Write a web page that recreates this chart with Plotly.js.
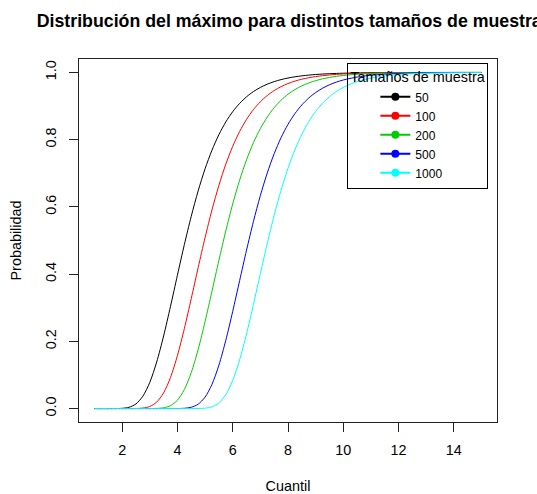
<!DOCTYPE html>
<html>
<head>
<meta charset="utf-8">
<script src="https://cdn.plot.ly/plotly-3.0.1.min.js"></script>
<style>
html, body { margin: 0; padding: 0; background: #fff; }
#chart { width: 537px; height: 494px; }
</style>
</head>
<body>
<div id="chart"></div>
<script>
// Quantile grid (x)
const cuantil = [1, 1.5, 2, 2.25, 2.5, 2.75, 3, 3.25, 3.5, 3.75, 4, 4.25, 4.5, 4.75, 5, 5.25, 5.5, 5.75, 6, 6.25, 6.5, 6.75, 7, 7.25, 7.5, 7.75, 8, 8.25, 8.5, 8.75, 9, 9.25, 9.5, 9.75, 10, 10.5, 11, 11.5, 12, 13, 14, 15];

// Probability of the maximum, one array per sample size
const n50 = [0, 0, 0.0007, 0.0038, 0.0138, 0.0368, 0.0778, 0.1384, 0.2159, 0.3042, 0.3968, 0.4876, 0.5720, 0.6476, 0.7132, 0.7687, 0.8148, 0.8527, 0.8833, 0.9079, 0.9275, 0.9431, 0.9554, 0.9651, 0.9727, 0.9787, 0.9834, 0.9870, 0.9899, 0.9921, 0.9939, 0.9952, 0.9963, 0.9971, 0.9977, 0.9986, 0.9992, 0.9995, 0.9997, 0.9999, 1.0, 1.0];
const n100 = [0, 0, 0, 0, 0.0002, 0.0014, 0.0061, 0.0192, 0.0466, 0.0926, 0.1575, 0.2377, 0.3272, 0.4194, 0.5086, 0.5909, 0.6640, 0.7270, 0.7802, 0.8243, 0.8603, 0.8895, 0.9128, 0.9314, 0.9462, 0.9578, 0.9670, 0.9742, 0.9799, 0.9843, 0.9877, 0.9904, 0.9925, 0.9942, 0.9955, 0.9973, 0.9983, 0.9990, 0.9994, 0.9998, 0.9999, 1.0];
const n200 = [0, 0, 0, 0, 0, 0, 0, 0.0004, 0.0022, 0.0086, 0.0248, 0.0565, 0.1071, 0.1759, 0.2587, 0.3491, 0.4408, 0.5285, 0.6087, 0.6794, 0.7401, 0.7911, 0.8332, 0.8675, 0.8953, 0.9175, 0.9351, 0.9491, 0.9601, 0.9688, 0.9756, 0.9810, 0.9851, 0.9884, 0.9910, 0.9945, 0.9967, 0.9980, 0.9988, 0.9996, 0.9998, 0.9999];
const n500 = [0, 0, 0, 0, 0, 0, 0, 0, 0, 0, 0.0001, 0.0008, 0.0038, 0.0130, 0.0340, 0.0720, 0.1290, 0.2031, 0.2891, 0.3805, 0.4713, 0.5567, 0.6337, 0.7010, 0.7583, 0.8062, 0.8456, 0.8775, 0.9033, 0.9238, 0.9402, 0.9531, 0.9633, 0.9713, 0.9776, 0.9863, 0.9917, 0.9949, 0.9969, 0.9989, 0.9996, 0.9998];
const n1000 = [0, 0, 0, 0, 0, 0, 0, 0, 0, 0, 0, 0, 0, 0.0002, 0.0012, 0.0052, 0.0167, 0.0413, 0.0836, 0.1448, 0.2221, 0.3099, 0.4016, 0.4914, 0.5751, 0.6500, 0.7150, 0.7701, 0.8159, 0.8535, 0.8839, 0.9084, 0.9279, 0.9434, 0.9556, 0.9728, 0.9834, 0.9899, 0.9939, 0.9977, 0.9992, 0.9997];

const seriesNames = ['50', '100', '200', '500', '1000'];
const seriesValues = [n50, n100, n200, n500, n1000];
const seriesColors = ['#000000', '#FF0000', '#00CD00', '#0000FF', '#00FFFF'];
const xTicks = [2, 4, 6, 8, 10, 12, 14];
const yTicks = [0, 0.2, 0.4, 0.6, 0.8, 1.0];

const FONT = 'Liberation Sans, Arial, Helvetica, sans-serif';

const traces = [];
seriesValues.forEach((vals, i) => {
  traces.push({
    type: 'scatter', mode: 'lines', x: cuantil, y: vals,
    line: { color: seriesColors[i], width: 1, shape: 'spline', smoothing: 0.8 },
    showlegend: false, hoverinfo: 'skip'
  });
});
seriesValues.forEach((vals, i) => {
  traces.push({
    type: 'scatter', mode: 'lines+markers', x: [null], y: [null],
    name: seriesNames[i],
    line: { color: seriesColors[i], width: 2 },
    marker: { color: seriesColors[i], size: 8, symbol: 'circle' },
    showlegend: true
  });
});

const layout = {
  width: 537, height: 494,
  margin: { l: 78.5, r: 40, t: 59, b: 72, pad: 0 },
  paper_bgcolor: '#fff', plot_bgcolor: '#fff',
  font: { family: FONT, size: 14.4, color: '#000' },
  title: {
    text: '<b>Distribución del máximo para distintos tamaños de muestra</b>',
    font: { family: FONT, size: 17.75, color: '#000' },
    x: 0.503, xanchor: 'center', xref: 'paper',
    y: 0.957, yanchor: 'middle'
  },
  xaxis: {
    range: [0.44, 15.56], tickvals: xTicks, ticktext: xTicks.map(String),
    ticks: 'outside', ticklen: 9, tickcolor: '#222', tickwidth: 1,
    showline: true, mirror: true, linecolor: '#222', linewidth: 1,
    showgrid: false, zeroline: false,
    tickfont: { size: 14.4 }, ticklabelstandoff: 6,
    title: { text: 'Cuantil', font: { size: 14.4 }, standoff: 26 },
    automargin: false
  },
  yaxis: {
    range: [-0.04, 1.04], tickvals: yTicks, ticktext: yTicks.map(v => v.toFixed(1)),
    ticks: 'outside', ticklen: 9, tickcolor: '#222', tickwidth: 1,
    showline: true, mirror: true, linecolor: '#222', linewidth: 1,
    showgrid: false, zeroline: false, tickangle: -90,
    tickfont: { size: 14.4 }, ticklabelstandoff: 7,
    title: { text: 'Probabilidad', font: { size: 14.4 }, standoff: 18 },
    automargin: false
  },
  legend: {
    x: 0.642, y: 0.99, xanchor: 'left', yanchor: 'top',
    bgcolor: 'rgba(0,0,0,0)', bordercolor: '#000', borderwidth: 1,
    font: { size: 12 }, indentation: 27,
    title: { text: 'Tamaños de muestra', font: { size: 14.4 }, side: 'top' },
    tracegroupgap: 0
  }
};

Plotly.newPlot('chart', traces, layout, { displayModeBar: false, staticPlot: true });
</script>
</body>
</html>
